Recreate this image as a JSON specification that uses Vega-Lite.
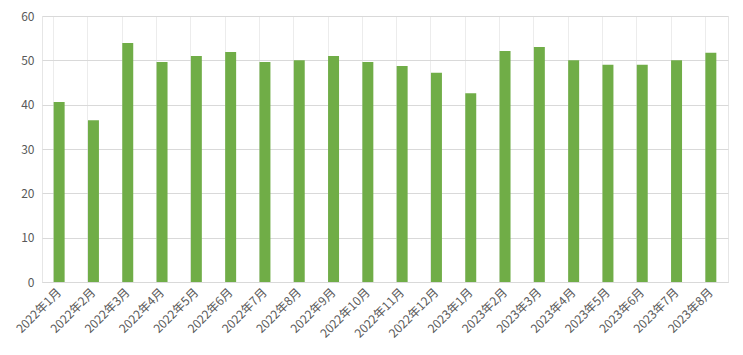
{
  "$schema": "https://vega.github.io/schema/vega-lite/v6.json",
  "autosize": {"type": "fit", "contains": "padding"},
  "width": 743,
  "height": 355,
  "padding": {"left": 15, "right": 15, "top": 10, "bottom": 15},
  "background": "#ffffff",
  "config": {
    "view": {"stroke": "#e6e6e6", "strokeWidth": 1},
    "font": "Noto Sans CJK SC"
  },
  "data": {
    "values": [
      {"month": "2022年1月", "value": 40.6},
      {"month": "2022年2月", "value": 36.5},
      {"month": "2022年3月", "value": 53.9},
      {"month": "2022年4月", "value": 49.6},
      {"month": "2022年5月", "value": 51.0},
      {"month": "2022年6月", "value": 51.9},
      {"month": "2022年7月", "value": 49.6},
      {"month": "2022年8月", "value": 50.0},
      {"month": "2022年9月", "value": 51.0},
      {"month": "2022年10月", "value": 49.6},
      {"month": "2022年11月", "value": 48.7},
      {"month": "2022年12月", "value": 47.2},
      {"month": "2023年1月", "value": 42.6},
      {"month": "2023年2月", "value": 52.1},
      {"month": "2023年3月", "value": 53.0},
      {"month": "2023年4月", "value": 50.0},
      {"month": "2023年5月", "value": 49.0},
      {"month": "2023年6月", "value": 49.0},
      {"month": "2023年7月", "value": 50.0},
      {"month": "2023年8月", "value": 51.7}
    ]
  },
  "mark": {"type": "bar", "color": "#70AD47"},
  "encoding": {
    "x": {
      "field": "month",
      "type": "nominal",
      "sort": null,
      "scale": {"paddingInner": 0.68, "paddingOuter": 0.34},
      "axis": {
        "title": null,
        "labelAngle": -45,
        "labelAlign": "right",
        "labelBaseline": "middle",
        "labelFontSize": 12,
        "labelColor": "#595959",
        "labelPadding": 8,
        "ticks": false,
        "domainColor": "#d9d9d9",
        "grid": true,
        "gridColor": "#ececec",
        "bandPosition": 0
      }
    },
    "y": {
      "field": "value",
      "type": "quantitative",
      "scale": {"domain": [0, 60]},
      "axis": {
        "title": null,
        "values": [0, 10, 20, 30, 40, 50, 60],
        "labelFontSize": 12,
        "labelColor": "#595959",
        "labelPadding": 8,
        "ticks": false,
        "domain": false,
        "gridColor": "#d9d9d9"
      }
    }
  }
}
